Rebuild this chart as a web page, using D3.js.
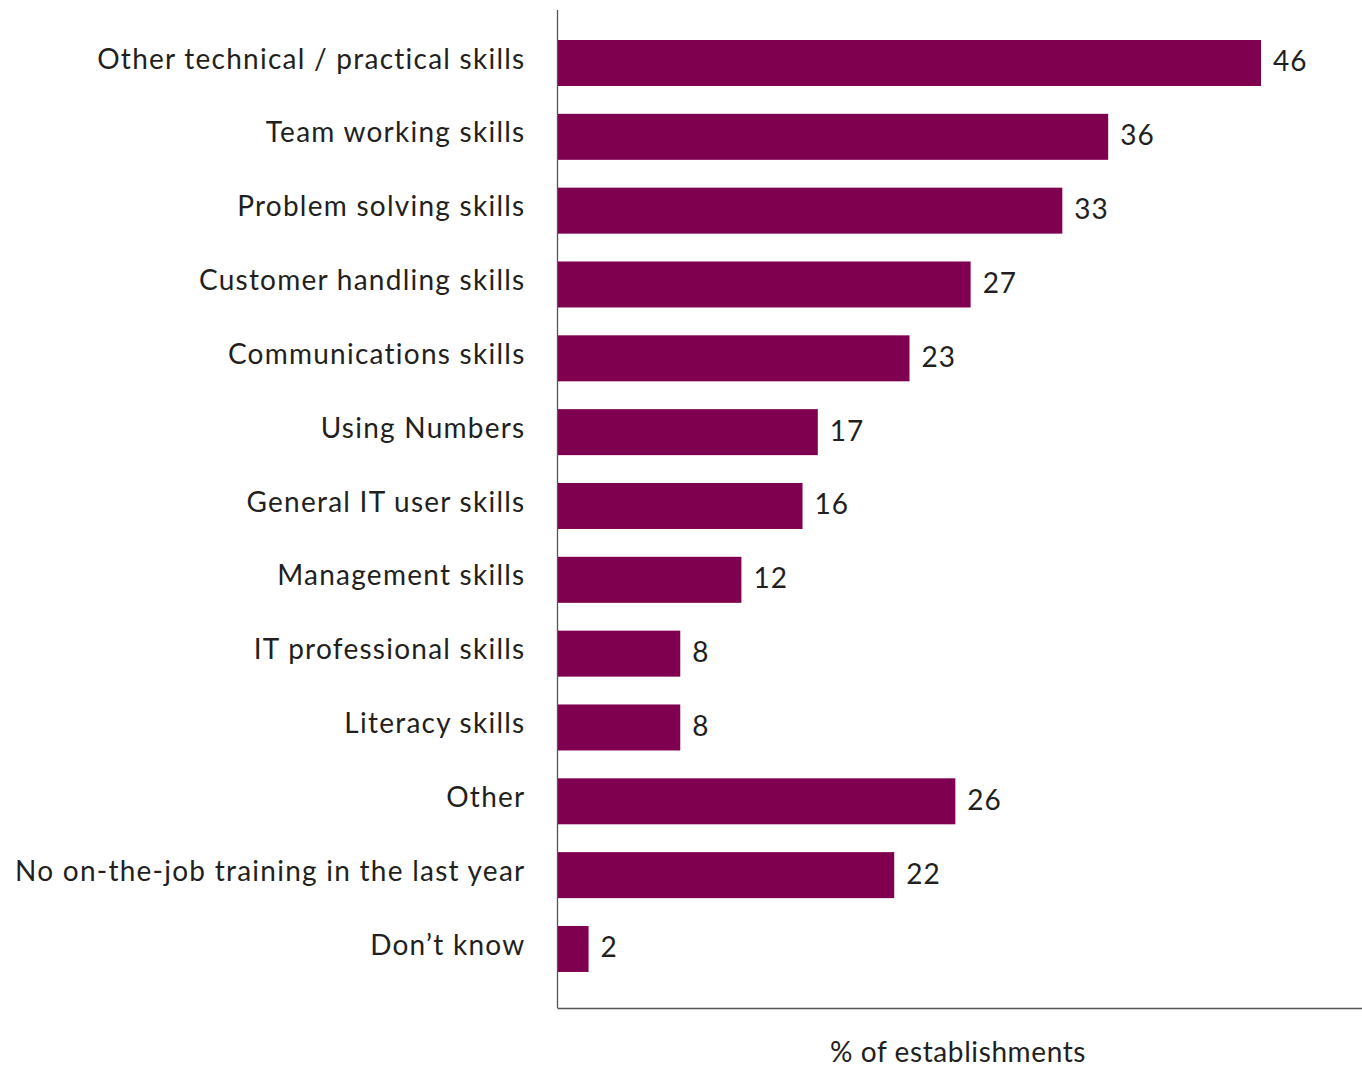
<!DOCTYPE html>
<html>
<head>
<meta charset="utf-8">
<script src="https://cdn.jsdelivr.net/npm/d3@7"></script>
<style>
  html, body { margin: 0; padding: 0; background: #fff; }
  svg { display: block; }
  text { font-family: Lato, "Open Sans", sans-serif; fill: #231f20; }
</style>
</head>
<body>
<script>
// Skills that on-the-job training was designed to improve
const categories = [
  "Other technical / practical skills",
  "Team working skills",
  "Problem solving skills",
  "Customer handling skills",
  "Communications skills",
  "Using Numbers",
  "General IT user skills",
  "Management skills",
  "IT professional skills",
  "Literacy skills",
  "Other",
  "No on-the-job training in the last year",
  "Don\u2019t know"
];
const values = [46, 36, 33, 27, 23, 17, 16, 12, 8, 8, 26, 22, 2];
const axisTitle = "% of establishments";

const W = 1362, H = 1068;
const left = 558, right = 1362;
const barColor = "#800050";

const svg = d3.select("body").append("svg")
  .attr("width", W).attr("height", H);

const x = d3.scaleLinear().domain([0, 46]).range([left, 1261]);

// row step ~73.8px, bar thickness 46px
const step = 73.83, pIn = 0.377, pOut = 0.3;
const y0 = 40 - step * pOut;
const y = d3.scaleBand()
  .domain(categories)
  .range([y0, y0 + step * (categories.length - pIn + 2 * pOut)])
  .paddingInner(pIn)
  .paddingOuter(pOut);

// bars
svg.append("g").selectAll("rect")
  .data(values)
  .join("rect")
  .attr("x", x(0))
  .attr("y", (d, i) => y(categories[i]))
  .attr("width", d => x(d) - x(0))
  .attr("height", y.bandwidth())
  .attr("fill", barColor);

// value labels
svg.append("g").selectAll("text")
  .data(values)
  .join("text")
  .attr("x", d => x(d) + 12)
  .attr("y", (d, i) => y(categories[i]) + y.bandwidth() / 2)
  .attr("dy", "0.3em")
  .attr("font-size", 28)
  .style("letter-spacing", "1px")
  .text(d => d);

// category axis (left)
const yAxis = d3.axisLeft(y).tickSize(0).tickPadding(32);
const gy = svg.append("g")
  .attr("transform", `translate(${left - 0.5},0)`)
  .call(yAxis);
gy.select(".domain").remove();
gy.selectAll("text")
  .attr("font-size", 28)
  .attr("dy", "0.2em")
  .style("font-family", "Lato, 'Open Sans', sans-serif")
  .style("letter-spacing", "1.25px")
  .attr("fill", "#231f20");

// axis lines
svg.append("line")
  .attr("x1", left - 0.5).attr("x2", left - 0.5)
  .attr("y1", 10).attr("y2", 1008)
  .attr("stroke", "#555").attr("stroke-width", 1.3);
svg.append("line")
  .attr("x1", left - 0.5).attr("x2", right)
  .attr("y1", 1008.5).attr("y2", 1008.5)
  .attr("stroke", "#555").attr("stroke-width", 1.3);

// axis title
svg.append("text")
  .attr("x", 958)
  .attr("y", 1062)
  .attr("text-anchor", "middle")
  .attr("font-size", 28)
  .style("letter-spacing", "0.6px")
  .text(axisTitle);
</script>
</body>
</html>
